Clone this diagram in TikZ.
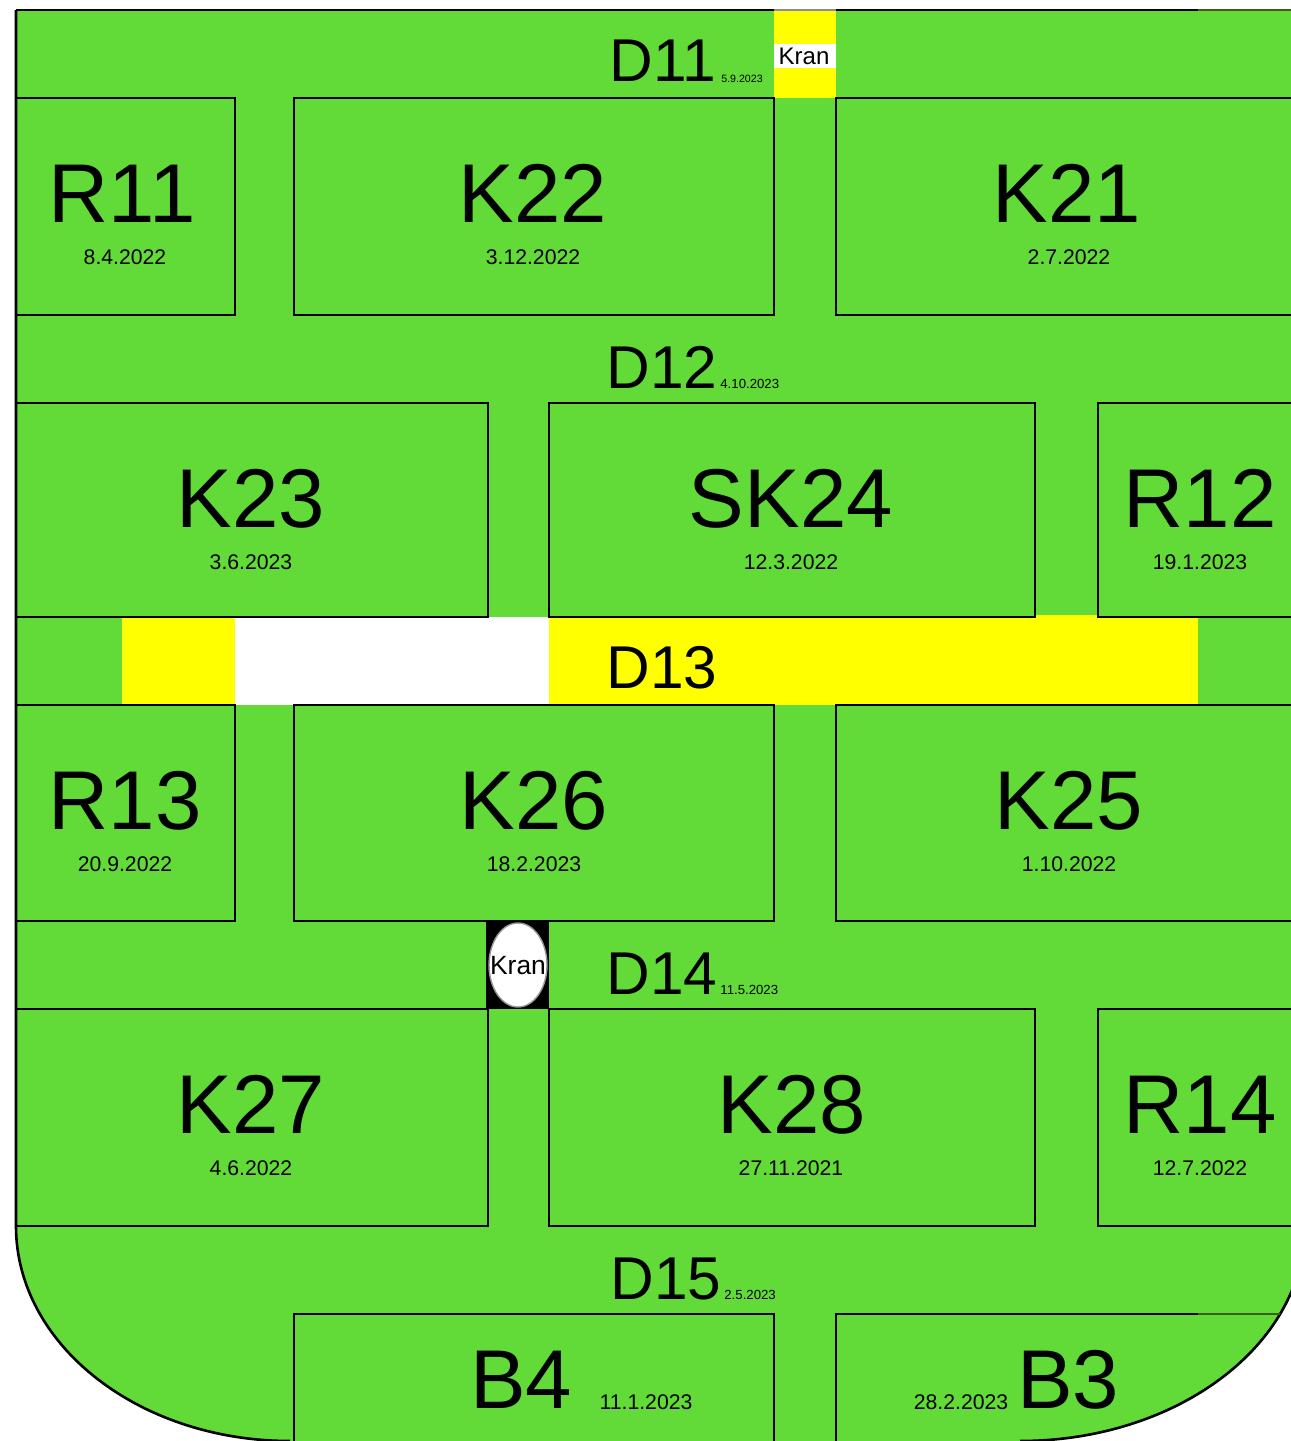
\documentclass[tikz,border=0pt]{standalone}
\usepackage{fontspec}
\setmainfont{Liberation Sans}
\definecolor{plot}{HTML}{62DA38}
\definecolor{edgedark}{HTML}{3B5F12}
\definecolor{strip}{HTML}{FFFF00}
\tikzset{
  x=0.5pt,y=-0.5pt,
  bed/.style={draw=black,line width=1.3pt,fill=none},
  rim/.style={line width=1.3pt},
  lab/.style={anchor=base,inner sep=0pt,text=black},
  big/.style={lab,font=\fontsize{41.7}{42}\selectfont},
  mid/.style={lab,yshift=0.5pt,font=\fontsize{30.2}{31}\selectfont},
  day/.style={lab,yshift=0.25pt,font=\fontsize{10.6}{11}\selectfont},
  tiny/.style={anchor=base west,inner sep=0pt,text=black,font=\fontsize{6.6}{7}\selectfont},
  tinier/.style={anchor=base west,inner sep=0pt,text=black,font=\fontsize{5.3}{6}\selectfont},
  crane/.style={lab,font=\fontsize{12}{12}\selectfont},
  craneb/.style={lab,font=\fontsize{13.2}{13}\selectfont}
}
\newcommand{\plotoutline}{(16,10) -- (1320,10) -- (1320,1226) -- (1305,1226) .. controls (1305,1345) and (1177,1441) .. (1020,1441) -- (290,1441) .. controls (139,1441) and (16,1345) .. (16,1226) -- cycle}
\begin{document}
\begin{tikzpicture}
\useasboundingbox (0,0) rectangle (1291,1441);
\begin{scope}
\clip (0,0) rectangle (1291,1441);
\fill[plot] \plotoutline;
% coloured strips
\fill[strip] (122,617) rectangle (235,705);
\fill[white] (235,617) rectangle (549,705);
\fill[strip] (549,617) rectangle (1198,705);
\fill[strip] (1035,615) rectangle (1098,617);
\fill[strip] (774,10) rectangle (836,98);
\fill[white] (774,44) rectangle (836,68);
\fill[black] (486,921) rectangle (549,1009);
\draw[fill=white,draw=black!40,line width=0.7pt] (518,965) ellipse (29 and 42);
% outer lines
\draw[rim] (16,10) -- (774,10);
\draw[rim,draw=black!45] (774,10) -- (836,10);
\draw[rim] (836,10) -- (1198,10);
\draw[rim,draw=edgedark] (1198,10) -- (1291,10);
\draw[rim] (16,10) -- (16,1226) .. controls (16,1345) and (139,1441) .. (290,1441);
\draw[rim] (1020,1441) .. controls (1177,1441) and (1305,1345) .. (1305,1226);
% beds
\begin{scope}
\clip \plotoutline;
\draw[bed] (16,98) rectangle (235,315);
\draw[bed] (294,98) rectangle (774,315);
\draw[bed] (836,98) rectangle (1300,315);
\draw[bed] (16,403) rectangle (488,617);
\draw[bed] (549,403) rectangle (1035,617);
\draw[bed] (1098,403) rectangle (1300,617);
\draw[bed] (16,705) rectangle (235,921);
\draw[bed] (294,705) rectangle (774,921);
\draw[bed] (836,705) rectangle (1300,921);
\draw[bed] (16,1009) rectangle (488,1226);
\draw[bed] (549,1009) rectangle (1035,1226);
\draw[bed] (1098,1009) rectangle (1300,1226);
\draw[bed] (294,1314) rectangle (774,1460);
\draw[rim] (836,1460) -- (836,1314) -- (1198,1314);
\draw[rim,draw=edgedark] (1198,1314) -- (1300,1314);
\end{scope}
\end{scope}
% labels
\node[big] (r11) at (122,222) {R11};
\node[day] (r11d) at (125,265) {8.4.2022};
\node[big] (k22) at (533,222) {K22};
\node[day] (k22d) at (533,265) {3.12.2022};
\node[big] (k21) at (1067,222) {K21};
\node[day] (k21d) at (1069,265) {2.7.2022};
\node[big] (k23) at (251,527) {K23};
\node[day] (k23d) at (251,570) {3.6.2023};
\node[big] (sk24) at (791,527) {SK24};
\node[day] (sk24d) at (791,570) {12.3.2022};
\node[big] (r12) at (1200,527) {R12};
\node[day] (r12d) at (1200,570) {19.1.2023};
\node[big] (r13) at (125,829) {R13};
\node[day] (r13d) at (125,872) {20.9.2022};
\node[big] (k26) at (534,829) {K26};
\node[day] (k26d) at (534,872) {18.2.2023};
\node[big] (k25) at (1069,829) {K25};
\node[day] (k25d) at (1069,872) {1.10.2022};
\node[big] (k27) at (251,1133) {K27};
\node[day] (k27d) at (251,1176) {4.6.2022};
\node[big] (k28) at (792,1133) {K28};
\node[day] (k28d) at (791,1176) {27.11.2021};
\node[big] (r14) at (1200,1133) {R14};
\node[day] (r14d) at (1200,1176) {12.7.2022};
\node[big] (b4) at (521,1408) {B4};
\node[day] (b4d) at (646,1410) {11.1.2023};
\node[big] (b3) at (1068,1408) {B3};
\node[day] (b3d) at (961,1410) {28.2.2023};
\node[mid] (d11) at (663,82) {D11};
\node[tinier] (d11d) at (721,82) {5.9.2023};
\node[mid] (d12) at (662,389) {D12};
\node[tiny] (d12d) at (720,388) {4.10.2023};
\node[mid] (d13) at (662,689) {D13};
\node[mid] (d14) at (662,995) {D14};
\node[tiny] (d14d) at (720,994) {11.5.2023};
\node[mid] (d15) at (666,1300) {D15};
\node[tiny] (d15d) at (724,1299) {2.5.2023};
\node[crane] (kran1) at (804,64) {Kran};
\node[craneb] (kran2) at (518,974) {Kran};
\end{tikzpicture}
\end{document}
